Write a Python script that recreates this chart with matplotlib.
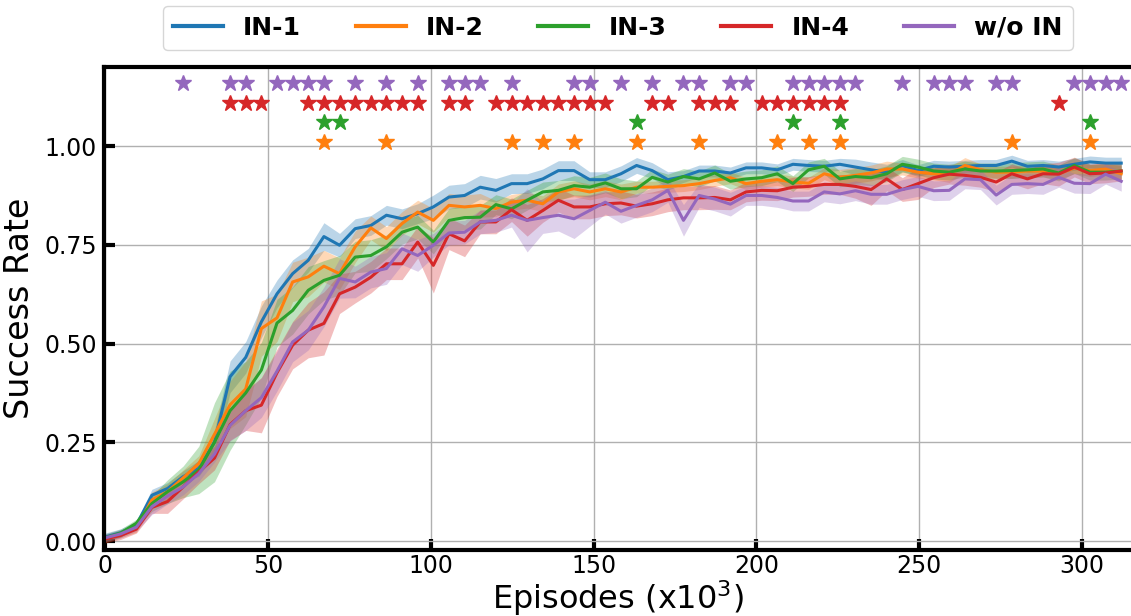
import numpy as np
import matplotlib
matplotlib.use("Agg")
import matplotlib.pyplot as plt

# ---------------- data ----------------
step = 4.8  # episodes (x10^3) between evaluation points
n_points = 66

in1 = [0.010, 0.021, 0.040, 0.116, 0.133, 0.163, 0.184, 0.250, 0.416, 0.465,
       0.555, 0.626, 0.677, 0.711, 0.771, 0.749, 0.791, 0.799, 0.825, 0.816,
       0.829, 0.846, 0.871, 0.875, 0.896, 0.888, 0.905, 0.905, 0.917, 0.938,
       0.938, 0.915, 0.915, 0.930, 0.951, 0.938, 0.915, 0.923, 0.937, 0.937,
       0.932, 0.945, 0.945, 0.940, 0.954, 0.951, 0.949, 0.954, 0.947, 0.940,
       0.934, 0.951, 0.938, 0.949, 0.947, 0.949, 0.951, 0.951, 0.962, 0.949,
       0.951, 0.947, 0.954, 0.960, 0.957, 0.957]
in2 = [0.005, 0.018, 0.032, 0.104, 0.125, 0.160, 0.196, 0.270, 0.345, 0.385,
       0.538, 0.565, 0.656, 0.669, 0.696, 0.677, 0.745, 0.793, 0.766, 0.804,
       0.833, 0.812, 0.850, 0.846, 0.850, 0.842, 0.858, 0.863, 0.854, 0.884,
       0.892, 0.884, 0.892, 0.884, 0.896, 0.896, 0.898, 0.900, 0.905, 0.913,
       0.920, 0.905, 0.911, 0.915, 0.909, 0.906, 0.930, 0.921, 0.926, 0.932,
       0.942, 0.942, 0.934, 0.930, 0.928, 0.951, 0.940, 0.934, 0.934, 0.937,
       0.937, 0.930, 0.945, 0.938, 0.942, 0.930]
in3 = [0.008, 0.020, 0.045, 0.095, 0.125, 0.150, 0.180, 0.250, 0.330, 0.375,
       0.433, 0.552, 0.584, 0.635, 0.660, 0.673, 0.719, 0.723, 0.745, 0.782,
       0.795, 0.757, 0.812, 0.819, 0.820, 0.852, 0.841, 0.863, 0.884, 0.888,
       0.900, 0.896, 0.907, 0.892, 0.892, 0.921, 0.909, 0.923, 0.917, 0.932,
       0.911, 0.917, 0.920, 0.930, 0.905, 0.940, 0.949, 0.917, 0.923, 0.920,
       0.930, 0.954, 0.947, 0.937, 0.934, 0.942, 0.937, 0.937, 0.938, 0.940,
       0.942, 0.932, 0.951, 0.934, 0.934, 0.937]
in4 = [0.005, 0.014, 0.030, 0.085, 0.100, 0.137, 0.175, 0.210, 0.295, 0.330,
       0.344, 0.426, 0.496, 0.534, 0.551, 0.626, 0.643, 0.668, 0.702, 0.702,
       0.757, 0.698, 0.778, 0.760, 0.808, 0.808, 0.839, 0.812, 0.837, 0.863,
       0.846, 0.846, 0.854, 0.856, 0.848, 0.854, 0.864, 0.869, 0.869, 0.870,
       0.864, 0.884, 0.888, 0.887, 0.896, 0.898, 0.903, 0.903, 0.898, 0.890,
       0.917, 0.890, 0.905, 0.920, 0.929, 0.926, 0.921, 0.909, 0.930, 0.917,
       0.930, 0.929, 0.947, 0.930, 0.932, 0.937]
wo_in = [0.008, 0.018, 0.035, 0.087, 0.114, 0.137, 0.171, 0.220, 0.293, 0.330,
         0.363, 0.430, 0.504, 0.534, 0.593, 0.665, 0.656, 0.681, 0.690, 0.740,
         0.723, 0.749, 0.780, 0.782, 0.808, 0.812, 0.825, 0.812, 0.819, 0.825,
         0.816, 0.837, 0.858, 0.835, 0.850, 0.864, 0.888, 0.812, 0.875, 0.866,
         0.853, 0.875, 0.875, 0.870, 0.861, 0.861, 0.884, 0.879, 0.887, 0.878,
         0.878, 0.890, 0.898, 0.887, 0.888, 0.917, 0.915, 0.876, 0.903, 0.905,
         0.903, 0.921, 0.906, 0.905, 0.929, 0.911]

# half-widths of the shaded bands
in1_err = [0.010, 0.010, 0.010, 0.015, 0.015, 0.015, 0.020, 0.030, 0.040, 0.040,
           0.040, 0.035, 0.035, 0.030, 0.035, 0.030, 0.025, 0.025, 0.025, 0.025,
           0.025, 0.030, 0.030, 0.030, 0.030, 0.030, 0.025, 0.025, 0.025, 0.025,
           0.025, 0.020, 0.020, 0.020, 0.020, 0.020, 0.020, 0.015, 0.015, 0.015,
           0.015, 0.015, 0.015, 0.015, 0.015, 0.015, 0.015, 0.015, 0.020, 0.020,
           0.020, 0.015, 0.015, 0.015, 0.015, 0.015, 0.015, 0.015, 0.015, 0.015,
           0.015, 0.015, 0.015, 0.015, 0.015, 0.015]
in2_err = [0.010, 0.010, 0.010, 0.020, 0.020, 0.020, 0.020, 0.040, 0.060, 0.070,
           0.070, 0.060, 0.050, 0.050, 0.040, 0.040, 0.040, 0.030, 0.030, 0.030,
           0.030, 0.030, 0.030, 0.030, 0.030, 0.020, 0.020, 0.020, 0.020, 0.020,
           0.020, 0.020, 0.020, 0.020, 0.015, 0.015, 0.015, 0.015, 0.015, 0.015,
           0.015, 0.015, 0.015, 0.015, 0.015, 0.015, 0.015, 0.020, 0.020, 0.020,
           0.020, 0.015, 0.015, 0.015, 0.020, 0.020, 0.015, 0.015, 0.015, 0.015,
           0.015, 0.015, 0.015, 0.015, 0.015, 0.020]
in3_err = [0.010, 0.010, 0.010, 0.020, 0.030, 0.040, 0.060, 0.100, 0.100, 0.080,
           0.070, 0.060, 0.060, 0.060, 0.050, 0.050, 0.040, 0.040, 0.030, 0.030,
           0.030, 0.030, 0.030, 0.030, 0.030, 0.025, 0.025, 0.025, 0.025, 0.025,
           0.025, 0.025, 0.025, 0.025, 0.020, 0.020, 0.020, 0.020, 0.020, 0.020,
           0.020, 0.020, 0.020, 0.020, 0.020, 0.020, 0.020, 0.020, 0.020, 0.020,
           0.020, 0.020, 0.020, 0.020, 0.020, 0.020, 0.020, 0.020, 0.020, 0.020,
           0.020, 0.020, 0.020, 0.020, 0.020, 0.020]
in4_err = [0.010, 0.010, 0.010, 0.015, 0.030, 0.030, 0.030, 0.030, 0.040, 0.050,
           0.070, 0.060, 0.060, 0.070, 0.080, 0.050, 0.040, 0.040, 0.040, 0.040,
           0.040, 0.070, 0.040, 0.040, 0.030, 0.030, 0.030, 0.040, 0.030, 0.030,
           0.030, 0.030, 0.030, 0.030, 0.030, 0.030, 0.030, 0.030, 0.030, 0.030,
           0.025, 0.025, 0.025, 0.025, 0.025, 0.025, 0.025, 0.025, 0.030, 0.040,
           0.030, 0.030, 0.040, 0.025, 0.025, 0.025, 0.025, 0.025, 0.025, 0.025,
           0.025, 0.030, 0.025, 0.025, 0.025, 0.025]
wo_in_err = [0.010, 0.010, 0.010, 0.020, 0.020, 0.020, 0.020, 0.020, 0.040, 0.050,
             0.050, 0.050, 0.050, 0.050, 0.050, 0.050, 0.040, 0.040, 0.040, 0.040,
             0.040, 0.030, 0.030, 0.030, 0.030, 0.030, 0.030, 0.080, 0.040, 0.040,
             0.050, 0.040, 0.030, 0.030, 0.030, 0.030, 0.030, 0.040, 0.030, 0.030,
             0.030, 0.025, 0.025, 0.025, 0.025, 0.025, 0.025, 0.025, 0.025, 0.025,
             0.025, 0.025, 0.025, 0.025, 0.025, 0.025, 0.025, 0.025, 0.025, 0.025,
             0.025, 0.025, 0.025, 0.025, 0.025, 0.025]

# significance stars: indices of evaluation points
stars_wo_in = [5, 8, 9, 11, 12, 13, 14, 16, 18, 20, 22, 23, 24, 26, 30, 31, 33, 35,
               37, 38, 40, 41, 44, 45, 46, 47, 48, 51, 53, 54, 55, 57, 58, 62, 63, 64, 65]
stars_in4 = [8, 9, 10, 13, 14, 15, 16, 17, 18, 19, 20, 22, 23, 25, 26, 27, 28, 29, 30,
             31, 32, 35, 36, 38, 39, 40, 42, 43, 44, 45, 46, 47, 61]
stars_in3 = [14, 15, 34, 44, 47, 63]
stars_in2 = [14, 18, 26, 28, 30, 34, 38, 43, 45, 47, 58, 63]

labels = ["IN-1", "IN-2", "IN-3", "IN-4", "w/o IN"]
colors = ["#1f77b4", "#ff7f0e", "#2ca02c", "#d62728", "#9467bd"]
star_levels = [1.01, 1.06, 1.11, 1.16]

# ---------------- plot ----------------
episodes = np.arange(n_points) * step

fig = plt.figure(figsize=(11.31, 6.16), dpi=100)
ax = fig.add_axes([0.092, 0.107, 0.908, 0.784])

series = [in1, in2, in3, in4, wo_in]
errs = [in1_err, in2_err, in3_err, in4_err, wo_in_err]
for vals, err, lab, col in zip(series, errs, labels, colors):
    v = np.array(vals)
    e = np.array(err)
    ax.fill_between(episodes, v - e, v + e, color=col, alpha=0.3, linewidth=0)
    ax.plot(episodes, v, color=col, lw=2.2, label=lab)

for idx, col, lev in zip([stars_in2, stars_in3, stars_in4, stars_wo_in],
                         colors[1:], star_levels):
    ax.plot(episodes[idx], np.full(len(idx), lev), linestyle="none",
            marker="*", markersize=12, color=col)

ax.set_xlim(-0.3, 315)
ax.set_ylim(-0.023, 1.2)
ax.set_xticks([0, 50, 100, 150, 200, 250, 300])
ax.set_yticks([0.0, 0.25, 0.5, 0.75, 1.0])
ax.set_yticklabels(["0.00", "0.25", "0.50", "0.75", "1.00"])
ax.grid(True, color="#b0b0b0", linewidth=1)
ax.set_axisbelow(True)

for s in ["left", "bottom", "top"]:
    ax.spines[s].set_linewidth(3)
ax.spines["right"].set_visible(False)
ax.tick_params(direction="in", length=8, width=3, labelsize=17)
ax.tick_params(axis="x", pad=3)
ax.tick_params(axis="y", pad=5)

ax.set_xlabel(r"Episodes (x10$^3$)", fontsize=23, labelpad=0)
ax.set_ylabel("Success Rate", fontsize=24, labelpad=6)

leg = ax.legend(loc="lower center", bbox_to_anchor=(0.5, 1.01), ncol=5,
                prop={"weight": "bold", "size": 18}, frameon=True,
                handlelength=2.0, columnspacing=2.2, borderpad=0.4)
for line in leg.get_lines():
    line.set_linewidth(3)

fig.savefig("out.png", dpi=100)
